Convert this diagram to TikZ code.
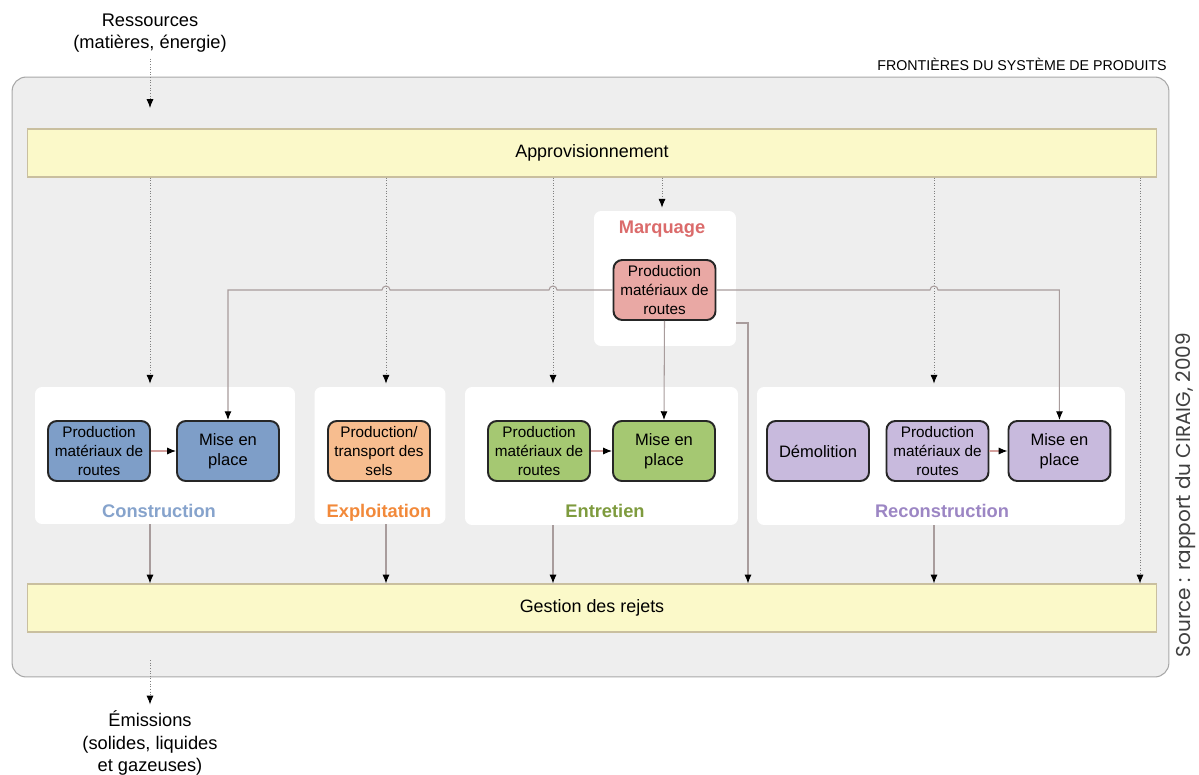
\documentclass[tikz,border=0pt]{standalone}
\usepackage{fontspec}
\setmainfont{Liberation Sans}
\newfontfamily\srcfont{Poppins}
\usetikzlibrary{positioning, arrows.meta, calc}

\definecolor{sysfill}{HTML}{EEEEEE}
\definecolor{sysdraw}{HTML}{A8A8A8}
\definecolor{barfill}{HTML}{FBF9C9}
\definecolor{bardraw}{HTML}{C9BF9F}
\definecolor{consF}{HTML}{7E9EC8}
\definecolor{consT}{HTML}{86A3CC}
\definecolor{explF}{HTML}{F7BD8F}
\definecolor{explT}{HTML}{F2893A}
\definecolor{entrF}{HTML}{A5C872}
\definecolor{entrT}{HTML}{7E9B3E}
\definecolor{recF}{HTML}{C8BADD}
\definecolor{recT}{HTML}{9C86C4}
\definecolor{marqF}{HTML}{E9A8A4}
\definecolor{marqT}{HTML}{DB6B6B}
\definecolor{linegray}{HTML}{A89C9C}

\tikzset{
  tip/.style={-{Latex[length=5pt,width=4pt,color=black]}},
  supply/.style={tip, densely dotted, gray, line width=0.5pt},
  flow/.style={tip, linegray, line width=0.6pt},
  inner/.style={tip, marqF!80!gray, line width=0.6pt},
  proc/.style={draw=black!85, line width=1.1pt, rounded corners=5pt,
    minimum width=2.04cm, minimum height=1.2cm, align=center, inner sep=1pt,
    font=\fontsize{8.7}{10.6}\selectfont},
  bigproc/.style={proc, font=\fontsize{9.4}{11.3}\selectfont},
  grp/.style={fill=white, rounded corners=4pt, inner sep=0pt},
  bar/.style={fill=barfill, draw=bardraw, line width=0.6pt, minimum width=22.6cm,
    minimum height=0.96cm, font=\fontsize{10.2}{12}\selectfont},
  ttl/.style={anchor=base, font=\bfseries\fontsize{10.4}{12}\selectfont},
  txt/.style={align=center, font=\fontsize{10.4}{12.8}\selectfont},
}

\begin{document}
\begin{tikzpicture}[x=0.02cm, y=-0.02cm, node distance=2.58cm and 2.58cm, on grid]
\useasboundingbox (0,0) rectangle (1199,774);

% frontiere du systeme
\node[fill=sysfill, draw=sysdraw, rounded corners=8pt, minimum width=23.14cm,
  minimum height=12cm, line width=0.6pt] (sys) at (590.5,377) {};
\node[font=\fontsize{8.1}{10}\selectfont] (front) at (1022,64) {FRONTIÈRES DU SYSTÈME DE PRODUITS};
\node[rotate=90, text=black!75, font=\srcfont\fontsize{11.4}{13}\selectfont] (src) at (1186,495)
  {Source : rapport du CIRAIG, 2009};

\node[bar] (appro) at (592,153) {Approvisionnement};
\node[bar] (gest) at (592,608) {Gestion des rejets};

\node[txt] (res) at (150,33) {Ressources\\(matières, énergie)};
\node[txt] (emi) at (150,743) {Émissions\\(solides, liquides\\et gazeuses)};

% groupes
\node[grp, minimum width=5.2cm, minimum height=2.74cm] (gcons) at (165,455.5) {};
\node[grp, minimum width=2.62cm, minimum height=2.74cm] (gexpl) at (380,455.5) {};
\node[grp, minimum width=5.46cm, minimum height=2.76cm] (gentr) at (601.5,456) {};
\node[grp, minimum width=7.36cm, minimum height=2.76cm] (grec) at (941,456) {};
\node[grp, minimum width=2.84cm, minimum height=2.7cm] (gmarq) at (665,278.5) {};

\node[ttl, text=consT] (tcons) at (159,517) {Construction};
\node[ttl, text=explT] (texpl) at (379,517) {Exploitation};
\node[ttl, text=entrT] (tentr) at (605,517) {Entretien};
\node[ttl, text=recT] (trec) at (942,517) {Reconstruction};
\node[ttl, text=marqT] (tmarq) at (662,233) {Marquage};

% etapes
\node[proc, fill=consF] (cprod) at (99,451) {Production\\matériaux de\\routes};
\node[bigproc, fill=consF] (cmise) [right=of cprod] {Mise en\\place};
\node[proc, fill=explF] (eprod) at (379,451) {Production/\\transport des\\sels};
\node[proc, fill=entrF] (nprod) at (539,451) {Production\\matériaux de\\routes};
\node[bigproc, fill=entrF] (nmise) [right=2.5cm of nprod] {Mise en\\place};
\node[bigproc, fill=recF] (rdemo) at (818,451) {Démolition};
\node[proc, fill=recF] (rprod) [right=2.39cm of rdemo] {Production\\matériaux de\\routes};
\node[bigproc, fill=recF] (rmise) [right=2.44cm of rprod] {Mise en\\place};
\node[proc, fill=marqF] (mprod) at (664.5,290) {Production\\matériaux de\\routes};

% colonnes des fleches
\coordinate (xc) at (150,0);
\coordinate (xx) at (386,0);
\coordinate (xe) at (553,0);
\coordinate (xm) at (662,0);
\coordinate (xg) at (748,0);
\coordinate (xr) at (934,0);
\coordinate (xb) at (1140,0);
\coordinate (resend) at (150,108);
\coordinate (emistart) at (150,660);
\coordinate (mqout) at (736,323);

\draw[supply] (res.south) -- (resend);
\draw[supply] (emistart) -- (emi.north);
\foreach \c/\g in {xc/gcons, xx/gexpl, xe/gentr, xr/grec, xm/gmarq}
  \draw[supply] (appro.south -| \c) -- ($(\g.north -| \c)+(0,-3)$);
\draw[supply] (appro.south -| xb) -- (gest.north -| xb);
\foreach \c/\g in {xc/gcons, xx/gexpl, xe/gentr, xr/grec}
  \draw[flow] (\g.south -| \c) -- (gest.north -| \c);

\draw[inner] (cprod) -- (cmise);
\draw[inner] (nprod) -- (nmise);
\draw[inner] (rprod) -- (rmise);

% marquage vers les mises en place
\draw[flow] (mprod.west) -- ($(xe |- mprod.west)+(4,0)$) arc[start angle=0, end angle=-180, radius=4]
  -- ($(xx |- mprod.west)+(4,0)$) arc[start angle=0, end angle=-180, radius=4] -| (cmise.north);
\draw[flow] (mprod.east) -- ($(xr |- mprod.east)+(-4,0)$) arc[start angle=180, end angle=360, radius=4]
  -| (rmise.north);
\draw[flow] (mprod.south) -- (nmise.north);
\draw[flow] (mqout) -| (gest.north -| xg);
\end{tikzpicture}
\end{document}
